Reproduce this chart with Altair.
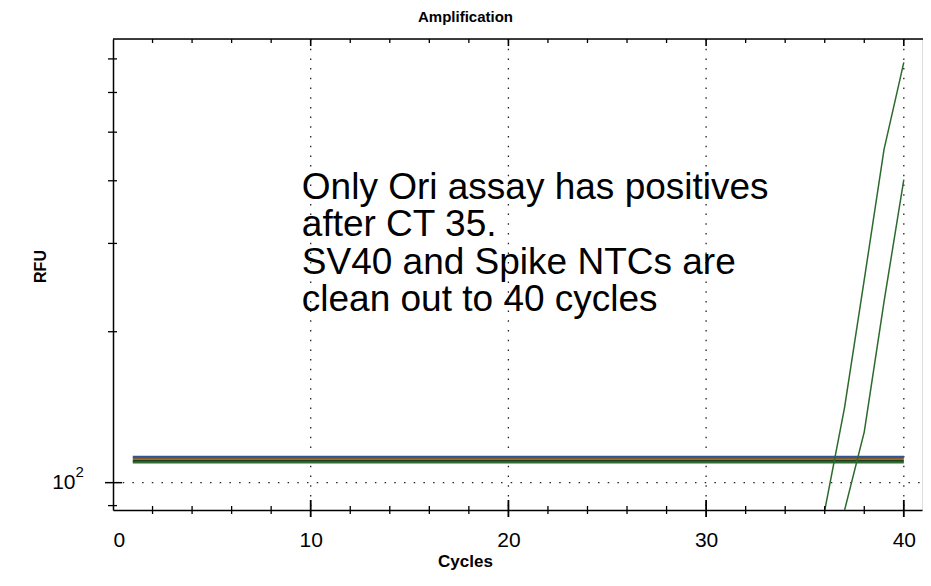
import altair as alt
import pandas as pd

# ---------------- data ----------------
cycles_flat = [1, 40]
flat_series = ["SV40 NTC", "Spike NTC", "Ori baseline A", "Ori baseline B"]
flat_levels = [112.6, 111.6, 110.5, 109.8]
flat_colors = ["#2f5597", "#8a5a2b", "#1e3f1e", "#2e6b2e"]

ori_cycles = [36, 37, 38, 39, 40]
ori_a = [88.0, 141, 254, 462, 689]
ori_b_cycles = [37, 38, 39, 40]
ori_b = [88.0, 126.3, 229.6, 402]

x_label_values = [0, 10, 20, 30, 40]
x_minor_ticks = [2, 4, 6, 8, 12, 14, 16, 18, 22, 24, 26, 28, 32, 34, 36, 38]
x_major_ticks = [10, 20, 30, 40]
y_ticks = [90, 200, 300, 400, 500, 600, 700]
y_major_ticks = [100]
y_grid = [100]
y_label_base = "10"
y_label_exp = "2"

note_lines = ["Only Ori assay has positives", "after CT 35.",
              "SV40 and Spike NTCs are", "clean out to 40 cycles"]
note_x = 9.55
note_y = 368

W, H = 809, 471
EXT = 1
XMAX = 40.92
YMIN, YMAX = 88.2, 767
FONT = "Liberation Sans"

# ---------------- tables ----------------
flat_rows = []
for s, v in zip(flat_series, flat_levels):
    for c in cycles_flat:
        flat_rows.append({"cycle": c, "rfu": v, "series": s})
flat_df = pd.DataFrame(flat_rows)

ori_rows = [{"cycle": c, "rfu": v, "well": "Ori A"} for c, v in zip(ori_cycles, ori_a)]
ori_rows += [{"cycle": c, "rfu": v, "well": "Ori B"} for c, v in zip(ori_b_cycles, ori_b)]
ori_df = pd.DataFrame(ori_rows)

xs = alt.Scale(domain=[0, XMAX], nice=False, zero=False)
ys = alt.Scale(type="log", domain=[YMIN, YMAX], nice=False)

x_axis = alt.Axis(values=x_label_values, grid=False, ticks=False, tickSize=0,
                  labelPadding=19, labelFontSize=21, labelFont=FONT, labelColor="black",
                  domainColor="black", domainWidth=1.5,
                  title="Cycles", titleFont=FONT, titleFontSize=17, titleFontWeight="bold",
                  titleColor="black", titleX=352, titleY=56, titleBaseline="alphabetic",
                  titleAlign="center")
y_axis = alt.Axis(values=y_major_ticks, grid=False, ticks=False, tickSize=0,
                  labelExpr="datum.value == 100 ? '%s' : ''" % y_label_base,
                  labelPadding=38, labelFontSize=21, labelFont=FONT, labelColor="black",
                  domainColor="black", domainWidth=1.5,
                  title="RFU", titleFont=FONT, titleFontSize=16, titleFontWeight="bold",
                  titleColor="black", titleX=-73, titleY=227, titleAngle=270,
                  titleBaseline="middle", titleAlign="center")

base_flat = alt.Chart(flat_df).mark_line(strokeWidth=2.2, clip=True).encode(
    x=alt.X("cycle:Q", scale=xs, axis=x_axis),
    y=alt.Y("rfu:Q", scale=ys, axis=y_axis),
    color=alt.Color("series:N", scale=alt.Scale(domain=flat_series, range=flat_colors), legend=None),
)

ori = alt.Chart(ori_df).mark_line(strokeWidth=1.5, color="#2d6a2d", clip=True).encode(
    x=alt.X("cycle:Q", scale=xs),
    y=alt.Y("rfu:Q", scale=ys),
    detail="well:N",
)

vgrid = alt.Chart(pd.DataFrame({"c": x_major_ticks})).mark_rule(
    color="#222", strokeWidth=1.3, strokeDash=[1.5, 8.2]).encode(
    x=alt.X("c:Q", scale=xs), y=alt.value(0), y2=alt.value(H))
hgrid = alt.Chart(pd.DataFrame({"v": y_grid})).mark_rule(
    color="#222", strokeWidth=1.3, strokeDash=[1.5, 8.2]).encode(
    y=alt.Y("v:Q", scale=ys), x=alt.value(0), x2=alt.value(W + EXT))

top_line = alt.Chart(pd.DataFrame({"a": [0]})).mark_rule(color="black", strokeWidth=1.5).encode(
    x=alt.value(0), x2=alt.value(W + EXT), y=alt.value(0))

minor_df = pd.DataFrame({"c": x_minor_ticks})
major_df = pd.DataFrame({"c": x_major_ticks})
top_minor = alt.Chart(minor_df).mark_rule(color="black", strokeWidth=1.3).encode(
    x=alt.X("c:Q", scale=xs), y=alt.value(0), y2=alt.value(4))
top_major = alt.Chart(major_df).mark_rule(color="black", strokeWidth=1.6).encode(
    x=alt.X("c:Q", scale=xs), y=alt.value(0), y2=alt.value(7))
bot_minor = alt.Chart(minor_df).mark_rule(color="black", strokeWidth=1.3).encode(
    x=alt.X("c:Q", scale=xs), y=alt.value(H - 4), y2=alt.value(H + 4))
bot_major = alt.Chart(major_df).mark_rule(color="black", strokeWidth=1.8).encode(
    x=alt.X("c:Q", scale=xs), y=alt.value(H - 10), y2=alt.value(H + 7))
left_minor = alt.Chart(pd.DataFrame({"v": y_ticks})).mark_rule(color="black", strokeWidth=1.3).encode(
    y=alt.Y("v:Q", scale=ys), x=alt.value(-5), x2=alt.value(4))
left_major = alt.Chart(pd.DataFrame({"v": y_major_ticks})).mark_rule(color="black", strokeWidth=1.5).encode(
    y=alt.Y("v:Q", scale=ys), x=alt.value(-8), x2=alt.value(9))

exp_label = alt.Chart(pd.DataFrame({"v": y_major_ticks, "t": [y_label_exp]})).mark_text(
    align="left", baseline="middle", font=FONT, fontSize=15, color="black", dy=-11).encode(
    y=alt.Y("v:Q", scale=ys), x=alt.value(-37.5), text="t:N")

note = alt.Chart(pd.DataFrame({"c": [note_x], "v": [note_y], "t": ["\n".join(note_lines)]})).mark_text(
    align="left", baseline="alphabetic", font=FONT, fontSize=37, lineHeight=37.5,
    color="black", lineBreak="\n").encode(
    x=alt.X("c:Q", scale=xs), y=alt.Y("v:Q", scale=ys), text="t:N")

chart = alt.layer(
    vgrid, hgrid, base_flat, ori, top_line, top_minor, top_major,
    bot_minor, bot_major, left_minor, left_major, exp_label, note
).properties(
    width=W, height=H,
    title=alt.TitleParams("Amplification", font=FONT, fontSize=15, fontWeight="bold",
                          color="black", anchor="middle", dx=-52, offset=13),
    autosize=alt.AutoSizeParams(type="none"),
    padding={"left": 105, "top": 31, "right": EXT, "bottom": 60},
).configure_view(strokeWidth=0, stroke="transparent").configure(background="white")

chart.save("out.html", embed_options={"renderer": "svg", "actions": False})
